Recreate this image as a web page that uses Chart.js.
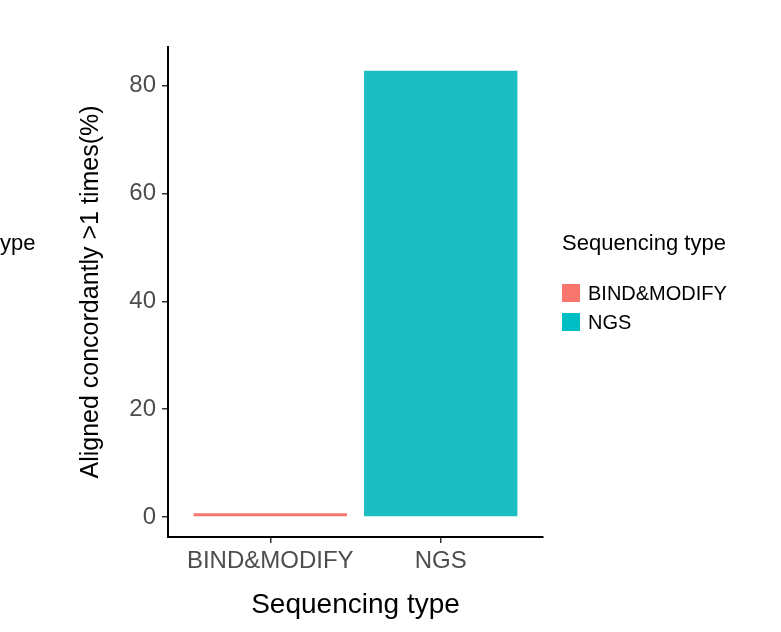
<!DOCTYPE html>
<html><head><meta charset="utf-8">
<script src="https://cdn.jsdelivr.net/npm/chart.js@4"></script>
<style>
body{margin:0;background:#fff;font-family:"Liberation Sans",Arial,sans-serif}
#wrap{position:relative;width:781px;height:632px}
.lg{position:absolute;color:#000}
.sw{position:absolute;width:18px;height:18px}
</style></head><body>
<div id="wrap">
<canvas id="grafico" width="781" height="632"></canvas>
<div class="lg" style="left:0;top:230px;font-size:22px">ype</div>
<div class="lg" style="left:562px;top:230px;font-size:22px">Sequencing type</div>
<div class="sw" style="left:562px;top:284px;background:#F8766D"></div>
<div class="lg" style="left:588px;top:282px;font-size:20px">BIND&amp;MODIFY</div>
<div class="sw" style="left:562px;top:313px;background:#00BFC4"></div>
<div class="lg" style="left:588px;top:311px;font-size:20px">NGS</div>
</div>
<script>
var categorias = ['BIND&MODIFY', 'NGS'];
var valores = [0.7, 82.8];
var colores = ['#F8766D', '#1CBEC4'];
var ticksY = [0, 20, 40, 60, 80];

var puntos = [];
for (var i = 0; i < categorias.length; i++) {
    puntos.push({x: i + 1, y: valores[i]});
}

new Chart(document.getElementById('grafico'), {
    type: 'bar',
    data: {
        datasets: [{
            data: puntos,
            backgroundColor: colores,
            barPercentage: 0.9,
            categoryPercentage: 1
        }]
    },
    options: {
        responsive: false,
        animation: false,
        layout: {padding: {top: 47, right: 238, left: 0, bottom: 0}},
        plugins: {legend: {display: false}, tooltip: {enabled: false}},
        scales: {
            x: {
                type: 'linear', min: 0.4, max: 2.6, offset: false,
                afterBuildTicks: function(s){ s.ticks = [{value: 1}, {value: 2}]; },
                afterFit: function(s){ s.height = 95; },
                ticks: {
                    callback: function(v){ return categorias[v - 1]; },
                    color: '#4d4d4d', font: {size: 24, family: 'Liberation Sans'}, padding: 4
                },
                grid: {drawOnChartArea: false, offset: false, color: '#333', tickLength: 6, lineWidth: 1.5},
                border: {color: '#000', width: 2},
                title: {display: true, text: 'Sequencing type', color: '#000',
                        font: {size: 28, family: 'Liberation Sans'}, padding: {top: 10, bottom: 10}}
            },
            y: {
                min: -3.7, max: 87.2,
                afterBuildTicks: function(s){ s.ticks = ticksY.map(function(v){ return {value: v}; }); },
                afterFit: function(s){ s.width = 168; },
                ticks: {color: '#4d4d4d', font: {size: 24, family: 'Liberation Sans'}, padding: 6},
                grid: {drawOnChartArea: false, color: '#333', tickLength: 6, lineWidth: 1.5},
                border: {color: '#000', width: 2},
                title: {display: true, text: 'Aligned concordantly >1 times(%)', color: '#000',
                        font: {size: 25, family: 'Liberation Sans'}, padding: {top: 76, bottom: 76}}
            }
        }
    }
});
</script>
</body></html>
